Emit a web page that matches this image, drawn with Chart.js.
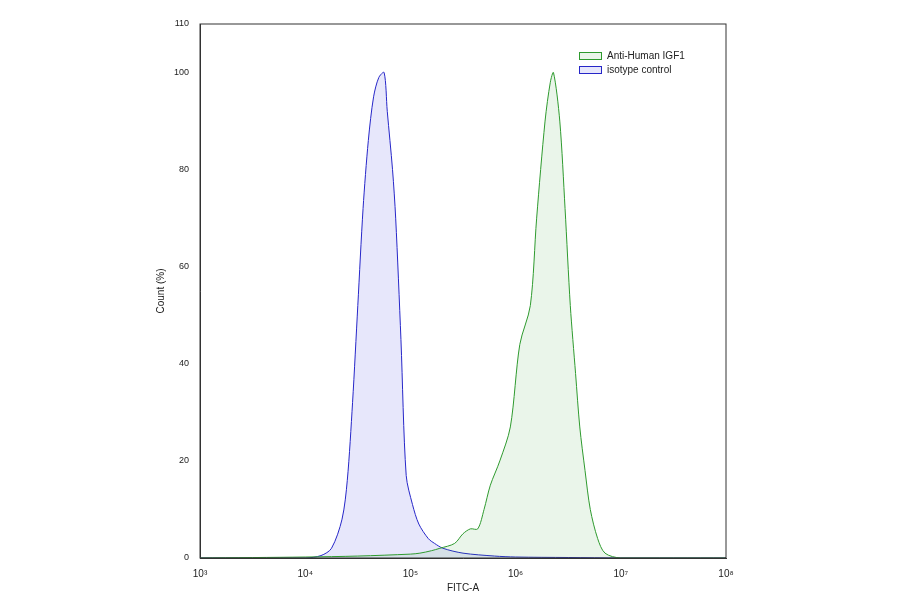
<!DOCTYPE html>
<html><head><meta charset="utf-8">
<script src="https://cdn.jsdelivr.net/npm/chart.js@4"></script>
<style>body{margin:0;background:#fff}#wrap{width:900px;height:594px}</style>
</head><body><div id="wrap"><canvas id="c"></canvas></div>
<script>
// x values as log10 exponents of FITC-A, y as Count (%)
var blueExp = [3.0,4.0,4.15,4.25,4.35,4.4,4.45,4.5,4.55,4.6,4.65,4.7,4.75,4.78,4.83,4.86,4.91,4.96,5.02,5.08,5.17,5.23,5.31,5.5,5.8,6.0,6.5,7.0,8.0];
var blueVals = [0,0,0.5,2,8,16,32,52,72,86,95,99,100,92,80,70,45,17,11,7,4,3,2,1,0.4,0.2,0.1,0,0];
var greenExp = [3.0,4.0,4.5,5.0,5.09,5.2,5.28,5.42,5.5,5.57,5.64,5.7,5.76,5.85,5.95,6.04,6.14,6.2,6.28,6.33,6.36,6.42,6.47,6.52,6.57,6.61,6.66,6.71,6.78,6.85,7.0,8.0];
var greenVals = [0,0.2,0.4,0.8,1,1.5,2,3,5,6,6,10,15,20,27,44,52,70,90,98,100,90,72,52,38,27,18,10,4,1,0,0];
var tickExp = [3,4,5,6,7,8];
var sup = {'3':'³','4':'⁴','5':'⁵','6':'⁶','7':'⁷','8':'⁸'};

function pts(ex, v){ return ex.map(function(e,i){ return {x:Math.pow(10,e), y:v[i]}; }); }

var legendBox = { id:'legendBox', afterDraw:function(ch){
  var c = ch.ctx; c.save();
  c.font = '10px Liberation Sans'; c.textBaseline = 'middle';
  ch.data.datasets.forEach(function(d,i){
    var y = 56 + i*14;
    c.fillStyle = d.backgroundColor; c.fillRect(579,y-3.5,22,7);
    c.strokeStyle = d.borderColor; c.lineWidth = 1; c.strokeRect(579.5,y-3.5,22,7);
    c.fillStyle = '#222'; c.fillText(d.label, 607, y);
  });
  c.strokeStyle='#333'; var a=ch.chartArea; c.strokeRect(a.left,a.top,a.right-a.left,a.bottom-a.top);
  c.restore();
}};

new Chart(document.getElementById('c'), {
  type: 'line',
  data: { datasets: [
    { label:'Anti-Human IGF1', data: pts(greenExp, greenVals), borderColor:'#2e9a2e', backgroundColor:'rgba(46,154,46,0.1)', fill:true, borderWidth:1, pointRadius:0, tension:0.3 },
    { label:'isotype control', data: pts(blueExp, blueVals), borderColor:'#2626c8', backgroundColor:'rgba(60,60,220,0.12)', fill:true, borderWidth:1, pointRadius:0, tension:0.3 }
  ]},
  options: {
    responsive:true, maintainAspectRatio:false, animation:false,
    layout:{ padding:{ left:151, right:174, top:24, bottom:0 } },
    plugins:{ legend:{ display:false }, tooltip:{ enabled:false } },
    scales:{
      x:{ type:'logarithmic', min:1e3, max:1e8,
        afterBuildTicks:function(a){ a.ticks = tickExp.map(function(e){ return {value:Math.pow(10,e)}; }); },
        ticks:{ callback:function(v){ return '10' + sup[String(Math.round(Math.log10(v)))]; }, color:'#222', font:{family:'Liberation Sans', size:10}, maxRotation:0, padding:2 },
        grid:{ display:false, drawTicks:true }, border:{ color:'#333' },
        title:{ display:true, text:'FITC-A', color:'#222', font:{family:'Liberation Sans', size:10}, padding:0 } },
      y:{ min:0, max:110,
        ticks:{ color:'#222', font:{family:'Liberation Sans', size:9}, callback:function(v){ return v; } },
        afterBuildTicks:function(a){ a.ticks = [0,20,40,60,80,100,110].map(function(v){ return {value:v}; }); },
        grid:{ display:false }, border:{ color:'#333' },
        title:{ display:true, text:'Count (%)', color:'#222', font:{family:'Liberation Sans', size:10} } }
    }
  },
  plugins:[legendBox]
});
</script></body></html>
